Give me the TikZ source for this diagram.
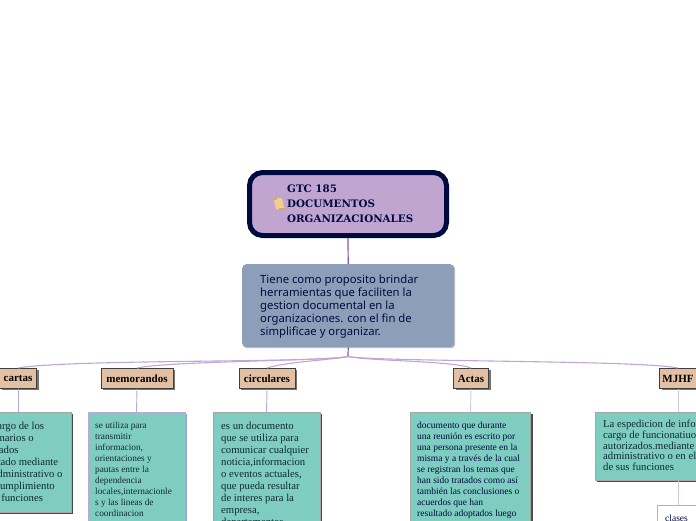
\documentclass[tikz,border=0pt]{standalone}
\usepackage{fontspec}
\setmainfont{Liberation Serif}
\newfontfamily\titlefont{DejaVu Serif}
\newfontfamily\descfont{Noto Sans}
\usetikzlibrary{shadows}
\definecolor{navy}{HTML}{000A40}
\definecolor{rootfill}{HTML}{C0A5D0}
\definecolor{descfill}{HTML}{8D9FB8}
\definecolor{tanfill}{HTML}{E3BFA3}
\definecolor{greenfill}{HTML}{7FCDC1}
\definecolor{stemcol}{HTML}{8455A5}
\definecolor{thincol}{HTML}{BFA6D6}
\definecolor{palecol}{HTML}{D6C6E4}
\definecolor{darktext}{HTML}{0F2A33}
\definecolor{scrolla}{HTML}{F2CE8E}
\definecolor{scrollb}{HTML}{D9A860}
\tikzset{
  rootbox/.style={draw=navy,line width=5pt,fill=rootfill,rounded corners=13pt,inner sep=0pt,anchor=north west},
  descbox/.style={fill=descfill,rounded corners=4pt,inner sep=0pt,anchor=north west,text=navy,
    drop shadow={shadow xshift=1pt,shadow yshift=-1pt,fill=black!25,opacity=1}},
  tagbox/.style={draw=black!75,line width=.9pt,fill=tanfill,inner sep=0pt,anchor=north,minimum height=20pt,
    font=\bfseries\fontsize{11}{12}\selectfont,text=black,
    drop shadow={shadow xshift=2pt,shadow yshift=-2pt,fill=black!55,opacity=1}},
  greenbox/.style={draw=black!35,line width=.8pt,fill=greenfill,inner sep=0pt,anchor=north,text=darktext,
    drop shadow={shadow xshift=2pt,shadow yshift=-2pt,fill=#1,opacity=1}},
  greenbox/.default={black!70},
  clasesbox/.style={draw=thincol,line width=.8pt,fill=white,inner sep=0pt,anchor=north,text=navy},
  boxtext/.style={anchor=north west,inner sep=0pt,align=left,text=darktext},
  branch/.style={draw=thincol,line width=1.1pt},
  stem/.style={draw=stemcol,line width=1.2pt},
  link/.style={draw=thincol,line width=.9pt}
}
\begin{document}
\begin{tikzpicture}[x=1pt,y=-1pt]
\useasboundingbox (0,0) rectangle (696,520);
\clip (0,0) rectangle (696,520);
% root
\node[rootbox,minimum width=197pt,minimum height=63pt] (root) at (247,170) {};
\node[boxtext,text=navy,font=\titlefont\bfseries\fontsize{10.3}{14.6}\selectfont] (roottext) at (287,185) {GTC 185\\DOCUMENTOS\\ORGANIZACIONALES};
% scroll icon
\fill[scrolla,rounded corners=1pt] (273.5,198) -- (282,198) -- (284.5,209.5) -- (276,209.5) -- cycle;
\fill[scrollb] (273,198) rectangle (277,200);
\fill[scrollb] (279,208) rectangle (284.5,210);
% description
\node[descbox,minimum width=212pt,minimum height=83pt] (desc) at (242,264) {};
\node[boxtext,text=navy,font=\descfont\fontsize{11.3}{13}\selectfont] (desctext) at (260,275) {Tiene como proposito brindar\\herramientas que faciliten la\\gestion documental en la\\organizaciones. con el fin de\\simplificae y organizar.};
\coordinate (hub) at (348,356.5);
% tags
\node[tagbox,minimum width=37pt] (cartas) at (18,368) {cartas};
\node[tagbox,minimum width=72pt] (memo) at (137,368) {memorandos};
\node[tagbox,minimum width=56pt] (circ) at (267,368) {circulares};
\node[tagbox,minimum width=35pt] (actas) at (471,368) {Actas};
\node[tagbox,minimum width=37pt] (mjhf) at (678,368) {MJHF};
% green boxes
\node[greenbox,minimum width=106pt,minimum height=100pt] (cartasb) at (18,412) {};
\node[boxtext,font=\fontsize{10.7}{12}\selectfont] (cartast) at (-28,421.5) {\hspace*{13pt}a cargo de los\\funcionarios o\\\hspace*{-3pt}autorizados\\expedtado mediante\\acto administrativo o\\en el cumplimiento\\de sus funciones};
\node[greenbox=black!30!blue!40,minimum width=97pt,minimum height=130pt,draw=thincol] (memob) at (136.5,412) {};
\node[boxtext,font=\fontsize{9.3}{11}\selectfont] (memot) at (95,421.5) {se utiliza para\\transmitir\\informacion,\\orientaciones y\\pautas entre la\\dependencia\\locales,internacionle\\s y las lineas de\\coordinacion};
\node[greenbox,minimum width=107pt,minimum height=130pt] (circb) at (266.5,412) {};
\node[boxtext,font=\fontsize{10.7}{12}\selectfont] (circt) at (221,421.5) {es un documento\\que se utiliza para\\comunicar cualquier\\noticia,informacion\\o eventos actuales,\\que pueda resultar\\de interes para la\\empresa,\\departamentos};
\node[greenbox,minimum width=120pt,minimum height=130pt] (actasb) at (470.5,412) {};
\node[boxtext,text=navy,font=\fontsize{9.5}{11}\selectfont] (actast) at (417,421.5) {documento que durante\\una reunión es escrito por\\una persona presente en la\\misma y a través de la cual\\se registran los temas que\\han sido tratados como así\\también las conclusiones o\\acuerdos que han\\resultado adoptados luego};
\node[greenbox,minimum width=166pt,minimum height=68pt] (mjhfb) at (678,412) {};
\node[boxtext,font=\fontsize{10.7}{10.7}\selectfont] (mjhft) at (603,420) {La espedicion de informacion a\\cargo de funcionatiuos o\\autorizados.mediante acto\\administrativo o en el cumplimiento\\de sus funciones};
\node[clasesbox,minimum width=42pt,minimum height=30pt] (clases) at (678,505) {};
\node[anchor=north west,inner sep=0pt,text=navy,font=\fontsize{9.5}{11}\selectfont] (clasest) at (665,514.5) {clases};
% connectors
\draw[stem] (root.south) -- (desc.north);
\draw[stem] (desc.south) -- (hub);
\draw[branch] (hub) .. controls (320,363) and (70,359) .. (cartas.north);
\draw[branch] (hub) .. controls (325,361) and (170,361) .. (memo.north);
\draw[branch] (hub) .. controls (330,360) and (285,362) .. (circ.north);
\draw[branch] (hub) .. controls (370,361) and (455,361) .. (actas.north);
\draw[branch] (hub) .. controls (380,362) and (640,360) .. (mjhf.north);
\draw[link] (cartas.south) -- (cartasb.north);
\draw[link] (memo.south) -- (memob.north);
\draw[link] (circ.south) -- (circb.north);
\draw[link,draw=palecol] (actas.south) -- (actasb.north);
\draw[link,draw=palecol] (mjhf.south) -- (mjhfb.north);
\draw[link,draw=palecol] (mjhfb.south) -- (clases.north);
\end{tikzpicture}
\end{document}
